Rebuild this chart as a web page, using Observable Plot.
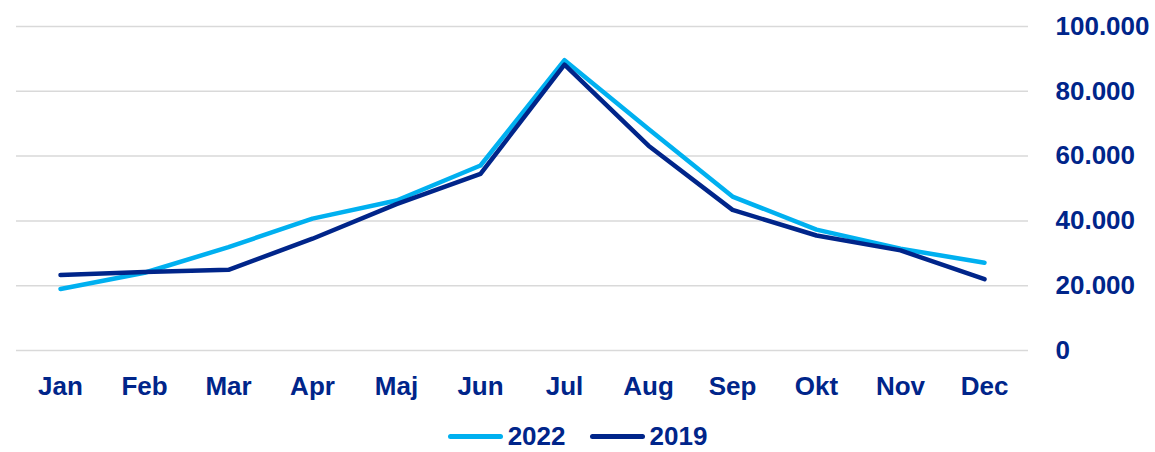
<!DOCTYPE html>
<html>
<head>
<meta charset="utf-8">
<script src="https://cdn.jsdelivr.net/npm/d3@7"></script>
<script src="https://cdn.jsdelivr.net/npm/@observablehq/plot@0.6"></script>
<style>
  html, body { margin: 0; padding: 0; background: #fff; }
  body { width: 1155px; height: 452px; overflow: hidden; font-family: "Liberation Sans", Arial, sans-serif; }
  #legend { display: flex; justify-content: center; align-items: center; height: 30px; line-height: 30px; margin-top: 1px; font-weight: bold; font-size: 26px; color: #00258a; }
  .item { display: flex; align-items: center; margin: 0 12px; }
  .sw { width: 55px; height: 5px; border-radius: 3px; margin-right: 5px; }
</style>
</head>
<body>
<div id="chart"></div>
<div id="legend"></div>
<script>
const months = ["Jan","Feb","Mar","Apr","Maj","Jun","Jul","Aug","Sep","Okt","Nov","Dec"];
const values2022 = [19000, 24000, 31900, 40700, 46300, 57100, 89600, 68400, 47500, 37300, 31400, 27100];
const values2019 = [23300, 24200, 24900, 34500, 45200, 54500, 88200, 63200, 43400, 35500, 30900, 22000];
const yTicks = [0, 20000, 40000, 60000, 80000, 100000];
const seriesNames = ["2022", "2019"];
const seriesColors = ["#00b0f0", "#00258a"];

const textColor = "#00258a";
const locale = d3.formatLocale({decimal: ",", thousands: ".", grouping: [3], currency: ["", ""]});
const fmt = locale.format(",");

const d2022 = months.map((m, i) => ({month: m, value: values2022[i]}));
const d2019 = months.map((m, i) => ({month: m, value: values2019[i]}));

const chart = Plot.plot({
  width: 1155,
  height: 420,
  marginTop: 26,
  marginBottom: 70,
  marginLeft: 16,
  marginRight: 127,
  style: {fontFamily: "'Liberation Sans', Arial, sans-serif", fontSize: "26px", fontWeight: "bold", color: textColor, background: "#fff"},
  x: {type: "point", domain: months, padding: 0.5},
  y: {domain: [0, 100000]},
  marks: [
    Plot.ruleY(yTicks, {stroke: "#d9d9d9", strokeWidth: 1.5}),
    Plot.axisX({tickSize: 0, tickPadding: 26, label: null, fill: textColor}),
    Plot.axisY({anchor: "right", ticks: yTicks, tickSize: 0, tickPadding: 27, tickFormat: fmt, label: null, fill: textColor}),
    Plot.line(d2022, {x: "month", y: "value", stroke: seriesColors[0], strokeWidth: 4.5, strokeLinecap: "round", strokeLinejoin: "round"}),
    Plot.line(d2019, {x: "month", y: "value", stroke: seriesColors[1], strokeWidth: 4.5, strokeLinecap: "round", strokeLinejoin: "round"})
  ]
});
document.getElementById("chart").appendChild(chart);

const legend = document.getElementById("legend");
seriesNames.forEach((name, i) => {
  const item = document.createElement("div");
  item.className = "item";
  const sw = document.createElement("div");
  sw.className = "sw";
  sw.style.background = seriesColors[i];
  const label = document.createElement("span");
  label.textContent = name;
  item.appendChild(sw);
  item.appendChild(label);
  legend.appendChild(item);
});
</script>
</body>
</html>
